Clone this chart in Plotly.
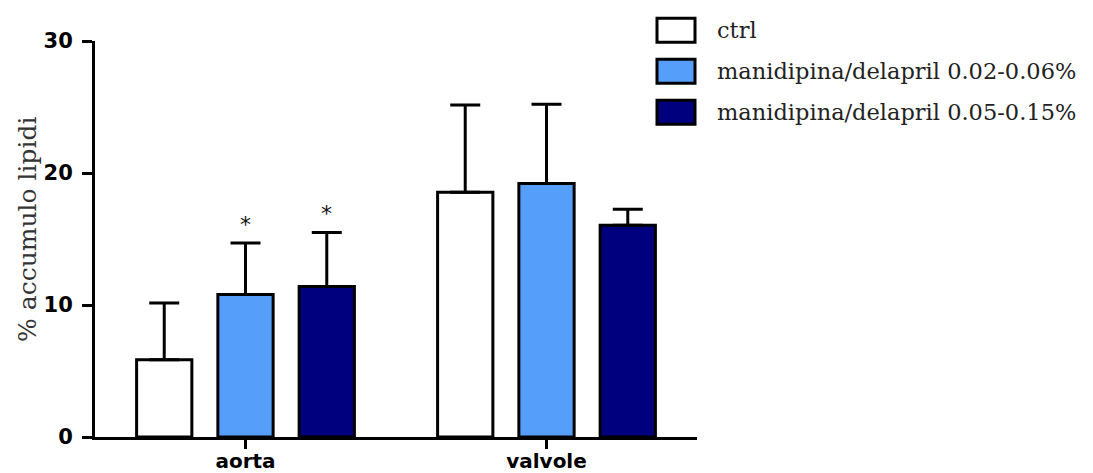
import plotly.graph_objects as go

categories = ["aorta", "valvole"]
series_names = ["ctrl", "manidipina/delapril 0.02-0.06%", "manidipina/delapril 0.05-0.15%"]
ctrl_vals = [5.85, 18.55]
ctrl_err = [4.3, 6.6]
low_vals = [10.8, 19.2]
low_err = [3.9, 6.0]
high_vals = [11.4, 16.05]
high_err = [4.1, 1.2]
signif = [["", ""], ["*", ""], ["*", ""]]
y_ticks = [0, 10, 20, 30]

colors = ["#FFFFFF", "#559FFA", "#00007E"]
vals = [ctrl_vals, low_vals, high_vals]
errs = [ctrl_err, low_err, high_err]

BARGAP = 0.19
GROUPGAP = 0.32

# page offset (browser body margin) compensation
OFF = 8
PL, PT, PW, PH = 95, 40.7, 602, 396.8  # plot area in page pixels

fig = go.Figure()
for name, v, e, c in zip(series_names, vals, errs, colors):
    fig.add_trace(go.Bar(
        x=categories, y=v, name=name,
        marker=dict(color=c, line=dict(color="black", width=3)),
        error_y=dict(type="data", array=e, arrayminus=[0] * len(e), symmetric=False,
                     color="black", thickness=3, width=15),
        showlegend=False,
    ))

# significance asterisks above error bars
slot = (1 - BARGAP) / len(series_names)
for si, (v, e) in enumerate(zip(vals, errs)):
    offset = (si - (len(series_names) - 1) / 2) * slot
    for ci, cat in enumerate(categories):
        if signif[si][ci]:
            fig.add_annotation(x=ci + offset, y=v[ci] + e[ci], text=signif[si][ci],
                               showarrow=False, yanchor="bottom", yshift=4,
                               font=dict(family="DejaVu Sans", size=22, color="#111"))

# custom legend (boxes + serif text)
leg_y0 = 18
leg_step = 41
for i, (name, c) in enumerate(zip(series_names, colors)):
    y0 = leg_y0 + i * leg_step
    fig.add_shape(type="rect", xref="paper", yref="paper",
                  x0=(657 - PL) / PW, x1=(695 - PL) / PW,
                  y0=1 - (y0 + 24 - PT) / PH, y1=1 - (y0 - PT) / PH,
                  fillcolor=c, line=dict(color="black", width=3))
    fig.add_annotation(xref="paper", yref="paper", x=(715 - PL) / PW,
                       y=1 - (y0 + 12 - PT) / PH, text=name, showarrow=False,
                       xanchor="left", yanchor="middle",
                       font=dict(family="DejaVu Serif", size=22.5, color="#222"))

# y-axis title placed as rotated text
fig.add_annotation(xref="paper", yref="paper", x=(28 - PL) / PW,
                   y=1 - (229 - PT) / PH, text="% accumulo lipidi", textangle=-90,
                   showarrow=False, xanchor="center", yanchor="middle",
                   font=dict(family="DejaVu Serif", size=25, color="#333"))

fig.update_layout(
    width=1093, height=473,
    margin=dict(l=PL - OFF, r=1093 - (PL + PW - OFF), t=PT - OFF,
                b=473 - (PT + PH - OFF), pad=0),
    paper_bgcolor="white", plot_bgcolor="white",
    barmode="group", bargap=BARGAP, bargroupgap=GROUPGAP,
    xaxis=dict(range=[-0.5, 1.5], showline=True, linecolor="black", linewidth=3,
               ticks="outside", ticklen=9, tickwidth=3, tickcolor="black",
               showgrid=False, zeroline=False, automargin=False, ticklabelstandoff=-5,
               tickfont=dict(family="DejaVu Sans", size=20, color="black", weight="bold")),
    yaxis=dict(range=[0, 30], tickvals=y_ticks, showline=True, linecolor="black", linewidth=3,
               ticks="outside", ticklen=10, tickwidth=3, tickcolor="black",
               showgrid=False, zeroline=False, ticklabelstandoff=5, automargin=False,
               tickfont=dict(family="DejaVu Sans", size=21, color="black", weight="bold")),
)

fig.write_html("out.html")
